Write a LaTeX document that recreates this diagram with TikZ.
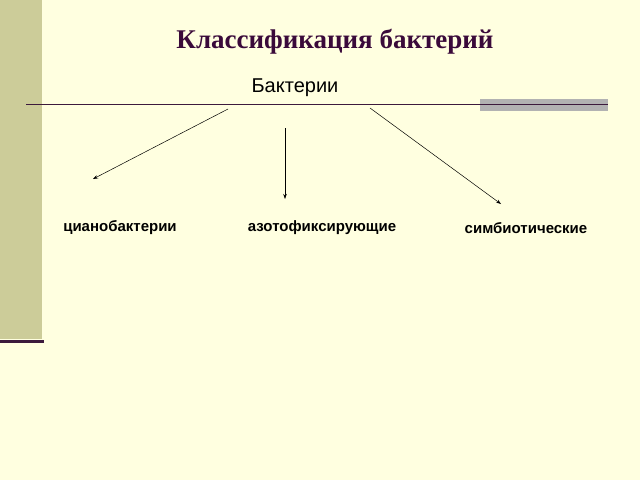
\documentclass[tikz,border=0pt]{standalone}
\usepackage{fontspec}
\setmainfont{Liberation Serif}
\setsansfont{Liberation Sans}
\usetikzlibrary{arrows.meta}
\definecolor{bg}{HTML}{FFFFE0}
\definecolor{khaki}{HTML}{CCCC99}
\definecolor{plum}{HTML}{3C1A3C}
\definecolor{titlec}{HTML}{3A0A3A}
\tikzset{lab/.style={font=\sffamily\bfseries\fontsize{15}{18}\selectfont},
 arr/.style={-{Stealth[length=5pt,width=3.5pt]},line width=0.5pt}}
\begin{document}
\begin{tikzpicture}[x=1pt,y=-1pt]
\fill[bg] (0,0) rectangle (640,480);
\useasboundingbox (0,0) rectangle (640,480);
\fill[khaki] (0,0) rectangle (42,339);
\draw[plum,line width=3pt] (0,341) -- (44,341);
\fill[gray!60] (480,99) rectangle (608,111);
\draw[plum,line width=1pt] (26,104) -- (608,104);
\node[font=\bfseries\fontsize{27}{32}\selectfont,text=titlec] (t) at (335,42) {Классификация бактерий};
\node[font=\sffamily\fontsize{20}{24}\selectfont] (b) at (295,88) {Бактерии};
\node[lab] (c) at (120,228) {цианобактерии};
\node[lab] (a) at (322,228) {азотофиксирующие};
\node[lab] (s) at (526,228) {симбиотические};
\coordinate (s1) at (228,109); \coordinate (e1) at (93,179);
\coordinate (s2) at (285,128); \coordinate (e2) at (285,199);
\coordinate (s3) at (370,108); \coordinate (e3) at (501,204);
\draw[arr] (s1) -- (e1);
\draw[arr] (s2) -- (e2);
\draw[arr] (s3) -- (e3);
\end{tikzpicture}
\end{document}
